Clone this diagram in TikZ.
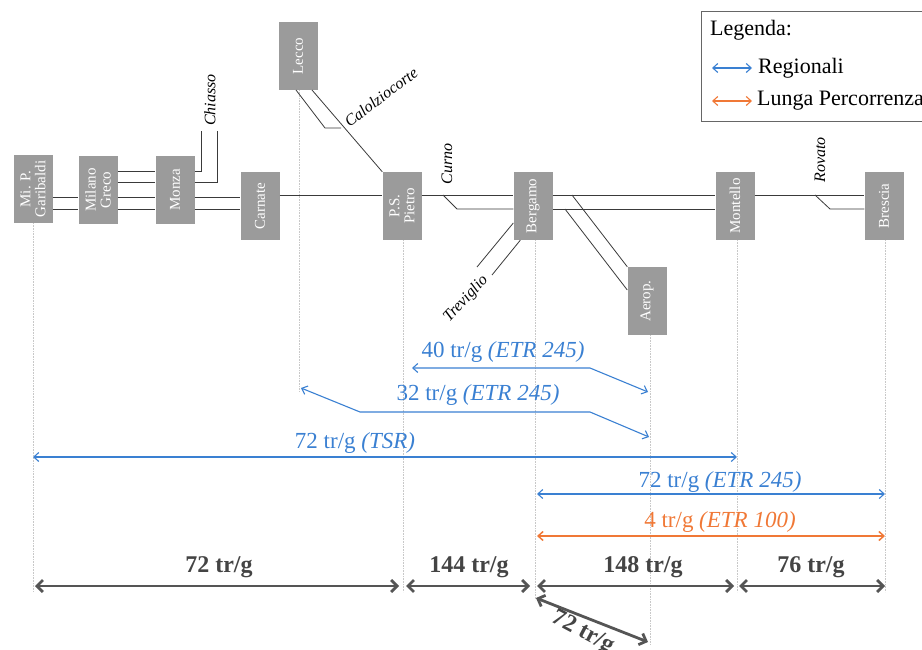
\documentclass[tikz,border=0pt]{standalone}
\usepackage{fontspec}
\setmainfont{Liberation Serif}
\usetikzlibrary{arrows.meta,calc}
\definecolor{stgray}{HTML}{9B9B9B}
\definecolor{regblue}{HTML}{3A80D2}
\definecolor{lpor}{HTML}{F07836}
\definecolor{flowgray}{HTML}{555555}
\definecolor{track}{HTML}{3A3A3A}
\definecolor{guide}{HTML}{C8C8C8}
\begin{document}
\begin{tikzpicture}[x=1pt,y=-1pt,
  stationbox/.style={fill=stgray, minimum width=39pt, minimum height=68pt, inner sep=0pt},
  stlabel/.style={rotate=90, text=white, font=\fontsize{15}{15}\selectfont, align=center},
  trackline/.style={draw=track, line width=0.8pt},
  guideline/.style={draw=guide, line width=0.6pt, densely dotted},
  branchlbl/.style={font=\fontsize{16}{16}\selectfont\itshape, inner sep=0pt},
  regarrow/.style={draw=regblue, line width=1.1pt, {Straight Barb[length=5pt,width=9pt]}-{Straight Barb[length=5pt,width=9pt]}},
  lparrow/.style={draw=lpor, line width=1.5pt, {Straight Barb[length=5pt,width=9pt]}-{Straight Barb[length=5pt,width=9pt]}},
  flowarrow/.style={draw=flowgray, line width=2.8pt, {Straight Barb[length=6pt,width=12pt]}-{Straight Barb[length=6pt,width=12pt]}},
  biglbl/.style={font=\fontsize{23}{23}\selectfont, inner sep=0pt},
  boldlbl/.style={font=\fontsize{24}{24}\selectfont\bfseries, text=flowgray!80!black, inner sep=0pt},
  legtext/.style={font=\fontsize{22}{22}\selectfont, anchor=west, inner sep=0pt}
]
\useasboundingbox (0,0) rectangle (922,650);

% ---------- guide lines ----------
\draw[guideline] (33,223) -- (33,592);
\draw[guideline] (299,90) -- (299,392);
\draw[guideline] (403,240) -- (403,592);
\draw[guideline] (535,240) -- (535,600);
\draw[guideline] (650,335) -- (650,645);
\draw[guideline] (737,240) -- (737,592);
\draw[guideline] (885,240) -- (885,592);

% ---------- stations ----------
\node[stationbox] (mi) at (33,189) {};
\node[stationbox] (greco) at (98,190) {};
\node[stationbox] (monza) at (175,190) {};
\node[stationbox] (carnate) at (260,206) {};
\node[stationbox] (lecco) at (298,56) {};
\node[stationbox] (ps) at (402,206) {};
\node[stationbox] (bergamo) at (533,206) {};
\node[stationbox] (aerop) at (647,301) {};
\node[stationbox] (montello) at (735,206) {};
\node[stationbox] (brescia) at (884,206) {};

\node[stlabel] (mitxt) at (mi) {Mi. P.\\Garibaldi};
\node[stlabel] (grecotxt) at (greco) {Milano\\Greco};
\node[stlabel] (monzatxt) at (monza) {Monza};
\node[stlabel] (carnatetxt) at (carnate) {Carnate};
\node[stlabel] (leccotxt) at (lecco) {Lecco};
\node[stlabel] (pstxt) at (ps) {P.S.\\Pietro};
\node[stlabel] (bergamotxt) at (bergamo) {Bergamo};
\node[stlabel] (aeroptxt) at (aerop) {Aerop.};
\node[stlabel] (montellotxt) at (montello) {Montello};
\node[stlabel] (bresciatxt) at (brescia) {Brescia};

% ---------- tracks ----------
\draw[trackline] (mi.east |- 0,197) -- (greco.west |- 0,197);
\draw[trackline] (mi.east |- 0,209) -- (greco.west |- 0,209);
\foreach \yy in {171,182,197,209}
  \draw[trackline] (greco.east |- 0,\yy) -- (monza.west |- 0,\yy);
\draw[trackline] (monza.east |- 0,197) -- (carnate.west |- 0,197);
\draw[trackline] (monza.east |- 0,209) -- (carnate.west |- 0,209);
% Chiasso branch
\coordinate (chA) at (201,131);
\coordinate (chB) at (217,131);
\draw[trackline] (monza.east |- 0,171) -| (chA);
\draw[trackline] (monza.east |- 0,182) -| (chB);
% Carnate - P.S. Pietro
\draw[trackline] (carnate.east |- 0,195) -- (ps.west |- 0,195);
% Lecco - P.S. Pietro
\coordinate (lcA) at (296,90);
\coordinate (lcB) at (312,90);
\coordinate (lcC) at (325,128);
\coordinate (lcD) at (341,128);
\draw[trackline] (lcB) -- (ps.north west);
\draw[trackline] (lcA) -- (lcC) -- (lcD);
% P.S. Pietro - Bergamo
\coordinate (cuA) at (443,195);
\coordinate (cuB) at (457,209);
\draw[trackline] (ps.east |- 0,195) -- (bergamo.west |- 0,195);
\draw[trackline] (cuA) -- (cuB) -- (bergamo.west |- 0,209);
% Bergamo - Montello
\draw[trackline] (bergamo.east |- 0,195) -- (montello.west |- 0,195);
\draw[trackline] (bergamo.east |- 0,209) -- (montello.west |- 0,209);
% Montello - Brescia
\coordinate (roA) at (815,195);
\coordinate (roB) at (830,209);
\draw[trackline] (montello.east |- 0,195) -- (brescia.west |- 0,195);
\draw[trackline] (roA) -- (roB) -- (brescia.west |- 0,209);
% Treviglio
\coordinate (trA) at (477,267);
\coordinate (trB) at (492,275);
\draw[trackline] (bergamo.west |- 0,223) -- (trA);
\draw[trackline] ($(bergamo.south west)+(7,0)$) -- (trB);
% Aeroporto
\coordinate (aeA) at (572,195);
\coordinate (aeB) at (565,209);
\draw[trackline] (aeA) -- (aerop.north west);
\draw[trackline] (aeB) -- (aerop.west |- 0,290);

% ---------- branch labels ----------
\node[branchlbl, rotate=90] (chiasso) at (210,100) {Chiasso};
\node[branchlbl, rotate=37] (calolzio) at (381,97) {Calolziocorte};
\node[branchlbl, rotate=90] (curno) at (447,164) {Curno};
\node[branchlbl, rotate=47] (treviglio) at (466,299) {Treviglio};
\node[branchlbl, rotate=90] (rovato) at (820,160) {Rovato};

% ---------- regional arrows ----------
\coordinate (r40a) at (412,368);
\coordinate (r40b) at (590,368);
\coordinate (r40c) at (648,392);
\draw[regarrow] (r40a) -- (r40b) -- (r40c);
\node[biglbl, text=regblue] (l40) at (503,352) {40 tr/g \textit{(ETR 245)}};

\coordinate (r32a) at (301,388);
\coordinate (r32b) at (360,412);
\coordinate (r32c) at (590,412);
\coordinate (r32d) at (649,437);
\draw[regarrow] (r32a) -- (r32b) -- (r32c) -- (r32d);
\node[biglbl, text=regblue] (l32) at (478,395) {32 tr/g \textit{(ETR 245)}};

\coordinate (rtsa) at (33,457);
\coordinate (rtsb) at (737,457);
\draw[regarrow] (rtsa) -- (rtsb);
\node[biglbl, text=regblue] (ltsr) at (355,443) {72 tr/g \textit{(TSR)}};

\coordinate (retra) at (537,494);
\coordinate (retrb) at (885,494);
\draw[regarrow] (retra) -- (retrb);
\node[biglbl, text=regblue] (letr) at (720,482) {72 tr/g \textit{(ETR 245)}};

\coordinate (lpa) at (537,536);
\coordinate (lpb) at (885,536);
\draw[lparrow] (lpa) -- (lpb);
\node[biglbl, text=lpor] (llp) at (720,522) {4 tr/g \textit{(ETR 100)}};

% ---------- total flows ----------
\coordinate (f1a) at (35,586);
\coordinate (f1b) at (399,586);
\coordinate (f2a) at (406,586);
\coordinate (f2b) at (530,586);
\coordinate (f3a) at (537,586);
\coordinate (f3b) at (734,586);
\coordinate (f4a) at (739,586);
\coordinate (f4b) at (885,586);
\coordinate (f5a) at (536,598);
\coordinate (f5b) at (648,642);
\draw[flowarrow] (f1a) -- (f1b);
\draw[flowarrow] (f2a) -- (f2b);
\draw[flowarrow] (f3a) -- (f3b);
\draw[flowarrow] (f4a) -- (f4b);
\draw[flowarrow] (f5a) -- (f5b);
\node[boldlbl] (t1) at (219,567) {72 tr/g};
\node[boldlbl] (t2) at (469,567) {144 tr/g};
\node[boldlbl] (t3) at (643,567) {148 tr/g};
\node[boldlbl] (t4) at (811,567) {76 tr/g};
\node[boldlbl, rotate=-28] (t5) at (583,633) {72 tr/g};

% ---------- legend ----------
\draw[draw=gray!80!black, line width=0.8pt] (701,11) rectangle (926,121);
\node[legtext] (legtitle) at (710,30) {Legenda:};
\coordinate (lg1a) at (712,68);
\coordinate (lg1b) at (752,68);
\draw[regarrow] (lg1a) -- (lg1b);
\node[legtext] (legreg) at (758,68) {Regionali};
\coordinate (lg2a) at (712,101);
\coordinate (lg2b) at (752,101);
\draw[lparrow, line width=1.1pt] (lg2a) -- (lg2b);
\node[legtext] (leglp) at (757,101) {Lunga Percorrenza};
\end{tikzpicture}
\end{document}
